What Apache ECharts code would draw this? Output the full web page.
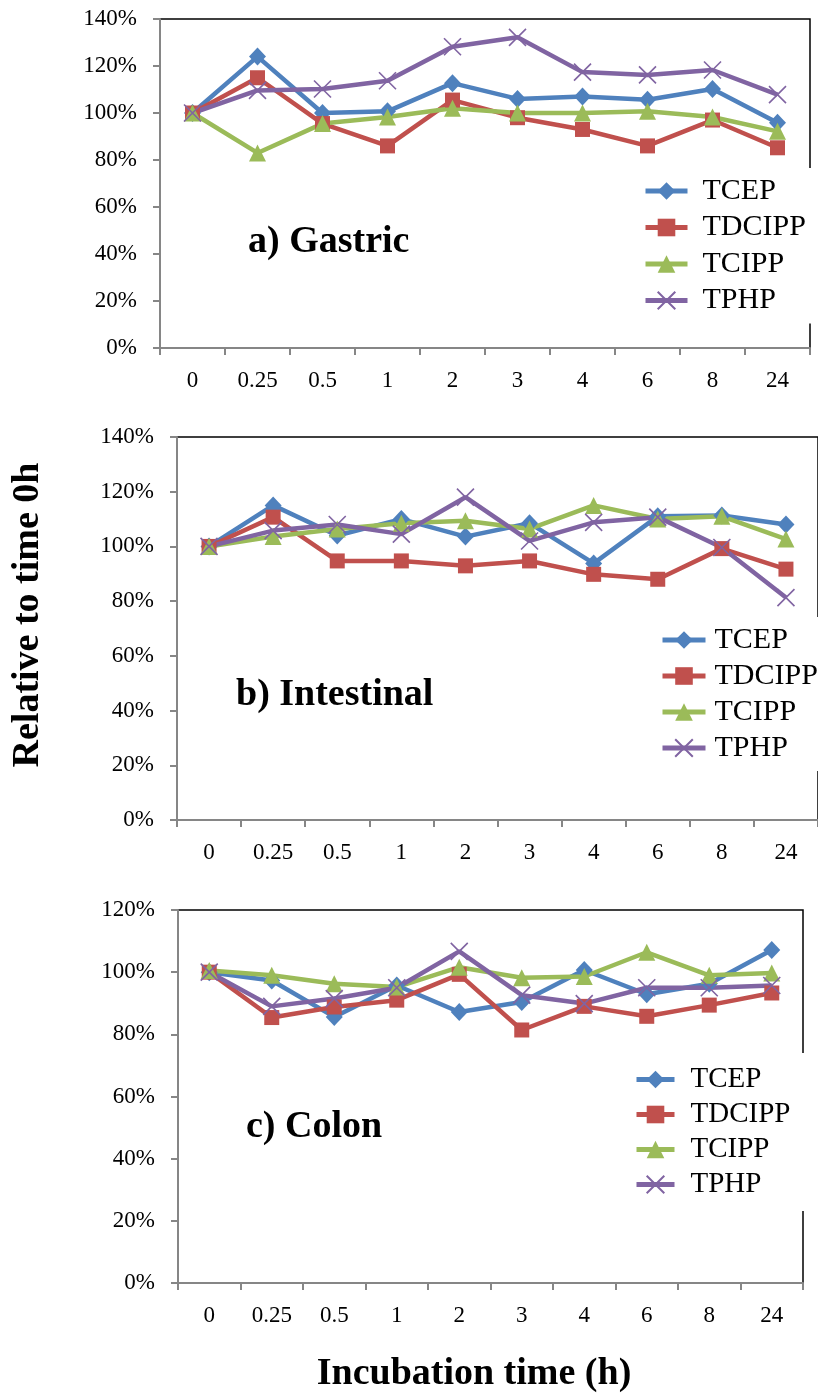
<!DOCTYPE html>
<html>
<head>
<meta charset="utf-8">
<script src="https://cdn.jsdelivr.net/npm/echarts@6/dist/echarts.min.js"></script>
<style>html,body{margin:0;padding:0;background:#fff}#c{width:818px;height:1393px}</style>
</head>
<body>
<div id="c"></div>
<script>
const categories = ['0', '0.25', '0.5', '1', '2', '3', '4', '6', '8', '24'];
const seriesNames = ['TCEP', 'TDCIPP', 'TCIPP', 'TPHP'];

// a) Gastric (% relative to time 0h)
const gastricTCEP   = [100, 124, 100, 100.7, 112.7, 106, 107, 105.6, 110.2, 95.8];
const gastricTDCIPP = [100, 115, 95.5, 86, 105.5, 98, 93, 86, 97, 85.2];
const gastricTCIPP  = [100, 83, 95.5, 98.3, 102, 100, 100, 100.7, 98.3, 92.2];
const gastricTPHP   = [100, 109.6, 110.2, 113.7, 128.2, 132.2, 117.4, 116.2, 118.3, 107.8];

// b) Intestinal
const intestTCEP   = [100, 115, 104, 110, 103.6, 108.5, 93.8, 111, 111.3, 108];
const intestTDCIPP = [100, 110.7, 94.7, 94.7, 92.9, 94.7, 89.8, 88, 99.2, 91.7];
const intestTCIPP  = [100, 103.6, 106.4, 108.5, 109.4, 106.4, 115, 110, 111, 102.7];
const intestTPHP   = [100, 105.8, 108, 104.5, 118, 102, 108.8, 110.7, 99.6, 81.3];

// c) Colon
const colonTCEP   = [100, 97.3, 85.6, 95.7, 87.2, 90.4, 100.7, 92.9, 96.3, 107.1];
const colonTDCIPP = [100, 85.4, 88.8, 91, 99.3, 81.4, 89, 85.8, 89.4, 93.3];
const colonTCIPP  = [100.5, 99, 96.3, 95.2, 101.6, 98.2, 98.6, 106.4, 99, 99.7];
const colonTPHP   = [100, 89, 91.5, 95, 106.7, 92.6, 89.9, 95, 95, 95.7];

const panelTitles = ['a) Gastric', 'b) Intestinal', 'c) Colon'];
const yMax = [140, 140, 120];
const yAxisTitle = 'Relative to time 0h';
const xAxisTitle = 'Incubation time (h)';

const FONT = '"Liberation Serif", "Times New Roman", serif';
const colors = ['#4F81BD', '#C0504D', '#9BBB59', '#8064A2'];
const symbols = ['diamond', 'rect', 'triangle', 'path://M0,0L10,10M10,0L0,10'];
const symbolSizes = [[17, 18], 15, 17, 17];

const panels = [
  {data: [gastricTCEP, gastricTDCIPP, gastricTCIPP, gastricTPHP]},
  {data: [intestTCEP, intestTDCIPP, intestTCIPP, intestTPHP]},
  {data: [colonTCEP, colonTDCIPP, colonTCIPP, colonTPHP]}
];

const grids = [
  {left: 160, width: 650, top: 19, height: 329},
  {left: 177, width: 644, top: 437, height: 383},
  {left: 178, width: 625, top: 910, height: 373}
];
const legendPos = [
  {left: 633, top: 168, gap: 6.5, fs: 30, iw: 42, tp: 10, pad: [8, 8, 8, 10]},
  {left: 650, top: 617, gap: 6, fs: 30, iw: 43, tp: 4, pad: [8, 4, 8, 10]},
  {left: 624, top: 1053, gap: 6, fs: 29, iw: 38, tp: 11, pad: [12, 8, 12, 10]}
];
const titlePos = [
  {left: 248, top: 223},
  {left: 236, top: 676},
  {left: 246, top: 1108}
];

const axisGray = '#868686';
const option = {
  animation: false,
  backgroundColor: '#fff',
  grid: grids.map(g => Object.assign({show: true, borderColor: '#000', borderWidth: 1.5, backgroundColor: 'transparent'}, g)),
  xAxis: grids.map((g, i) => ({
    type: 'category', gridIndex: i, data: categories, boundaryGap: true,
    axisLine: {show: true, lineStyle: {color: axisGray, width: 2}},
    axisTick: {show: true, length: 7, lineStyle: {color: axisGray, width: 2}},
    axisLabel: {color: '#000', fontFamily: FONT, fontSize: 23, margin: 21, interval: 0},
    splitLine: {show: false}
  })),
  yAxis: grids.map((g, i) => ({
    type: 'value', gridIndex: i, min: 0, max: yMax[i], interval: 20,
    axisLine: {show: true, lineStyle: {color: axisGray, width: 2}},
    axisTick: {show: true, length: 7, lineStyle: {color: axisGray, width: 2}},
    axisLabel: {color: '#000', fontFamily: FONT, fontSize: 23, margin: 23, formatter: '{value}%'},
    splitLine: {show: false}
  })),
  legend: legendPos.map((l, i) => ({
    data: seriesNames.map(n => n + ' '.repeat(i)),
    orient: 'vertical', left: l.left, top: l.top, itemGap: l.gap,
    itemWidth: l.iw, itemHeight: 22, padding: l.pad,
    backgroundColor: '#fff', selectedMode: false,
    lineStyle: {width: 5},
    textStyle: {fontFamily: FONT, fontSize: l.fs, color: '#000', lineHeight: l.fs, padding: [0, 0, 0, l.tp]}
  })),
  title: panelTitles.map((t, i) => ({
    text: t, left: titlePos[i].left, top: titlePos[i].top, padding: 0,
    textStyle: {fontFamily: FONT, fontSize: 38, fontWeight: 'bold', color: '#000'}
  })),
  graphic: [
    {type: 'text', x: 28, y: 615, rotation: Math.PI / 2, z: 100,
      style: {text: yAxisTitle, font: 'bold 38px ' + FONT, fill: '#000', textAlign: 'center', textVerticalAlign: 'middle'}},
    {type: 'text', x: 474, y: 1374, z: 100,
      style: {text: xAxisTitle, font: 'bold 38px ' + FONT, fill: '#000', textAlign: 'center', textVerticalAlign: 'middle'}}
  ],
  series: []
};

panels.forEach((p, pi) => {
  p.data.forEach((vals, si) => {
    const isX = si === 3;
    option.series.push({
      type: 'line', name: seriesNames[si] + ' '.repeat(pi),
      xAxisIndex: pi, yAxisIndex: pi, data: vals,
      symbol: symbols[si], symbolSize: symbolSizes[si], showAllSymbol: true,
      lineStyle: {color: colors[si], width: 4.5},
      itemStyle: isX ? {color: colors[si], borderColor: colors[si], borderWidth: 1.6} : {color: colors[si]},
      emphasis: {disabled: true}
    });
  });
});

const chart = echarts.init(document.getElementById('c'), null, {renderer: 'canvas'});
chart.setOption(option);
</script>
</body>
</html>
